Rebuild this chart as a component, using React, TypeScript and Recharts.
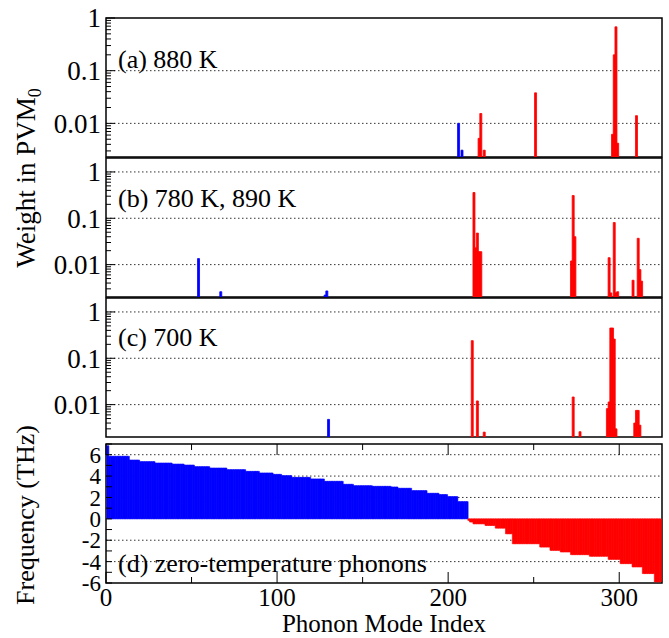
import React from "react";
import { BarChart, Bar, XAxis, YAxis, CartesianGrid, ReferenceArea, Cell } from "recharts";

const FONT = "Liberation Serif, Times New Roman, serif";
const BLUE = "#0000ff";
const RED = "#ff0000";
const W = 669;
const H = 638;
const PL = 106; // plot left
const PR = 662; // plot right

const MODE_COUNT = 324;

// zero-temperature phonon frequencies (THz), as runs of [modes in run, value]
const FREQ_STEPS: [number, number][] = [
  [1, 6.84], [12, 5.85], [6, 5.5], [9, 5.35], [10, 5.22], [7, 5.12], [6, 5.03],
  [9, 4.88], [10, 4.75], [11, 4.6], [8, 4.44], [8, 4.29], [5, 4.16], [6, 4.04],
  [11, 3.88], [8, 3.73], [11, 3.51], [6, 3.23], [11, 3.1], [11, 3.04], [4, 2.98],
  [8, 2.86], [9, 2.64], [7, 2.39], [5, 2.27], [6, 2.08], [6, 1.61],
  [1, -0.15], [2, -0.3], [7, -0.47], [6, -0.62], [6, -0.87], [4, -1.4], [16, -2.33],
  [6, -2.64], [6, -2.95], [6, -3.1], [11, -3.35], [11, -3.5], [7, -3.79], [7, -4.19],
  [6, -4.5], [7, -5.12], [4, -5.9],
];

// weight in PVM0, as [mode index, weight]
const W_880: [number, number][] = [
  [206, 0.01], [208, 0.0031], [218, 0.0052], [219, 0.0154], [221, 0.0031],
  [251, 0.038], [296, 0.0062], [297, 0.2], [298, 0.68], [299, 0.0042], [310, 0.014],
];
const W_780_890: [number, number][] = [
  [54, 0.0135], [67, 0.0026], [128, 0.0022], [129, 0.0027],
  [215, 0.36], [216, 0.023], [217, 0.048], [218, 0.019], [219, 0.019],
  [272, 0.012], [273, 0.31], [274, 0.04],
  [294, 0.0141], [295, 0.00245], [297, 0.081], [298, 0.00245], [299, 0.0026],
  [308, 0.0046], [311, 0.037], [312, 0.0078], [313, 0.0044],
];
const W_700: [number, number][] = [
  [130, 0.0048], [214, 0.24], [217, 0.012], [221, 0.00255],
  [273, 0.0146], [277, 0.0026],
  [293, 0.0082], [294, 0.0114], [295, 0.45], [296, 0.45], [297, 0.26], [298, 0.003],
  [309, 0.004], [310, 0.0075], [311, 0.0075], [312, 0.0036],
];

const X_TICKS = [0, 50, 100, 150, 200, 250, 300];
const LOG_TICKS = [
  0.003, 0.004, 0.005, 0.006, 0.007, 0.008, 0.009,
  0.01, 0.02, 0.03, 0.04, 0.05, 0.06, 0.07, 0.08, 0.09,
  0.1, 0.2, 0.3, 0.4, 0.5, 0.6, 0.7, 0.8, 0.9, 1,
];
const LOG_GRID_A = [0.01, 0.1];
const LOG_GRID_BC = [0.01, 0.1, 1];
const FREQ_TICKS = [-6, -5, -4, -3, -2, -1, 0, 1, 2, 3, 4, 5, 6, 7];
const FREQ_GRID = [-4, -2, 2, 4, 6];

const modes = Array.from({ length: MODE_COUNT }, (_, i) => i + 1);
const freqs: number[] = FREQ_STEPS.flatMap(([n, f]) => Array(n).fill(f));

const rowsFor = (w: [number, number][]) => {
  const m = new Map(w);
  return modes.map((mode, i) => ({ mode, freq: freqs[i], w: m.get(mode) ?? null }));
};
const freqRows = modes.map((mode, i) => ({ mode, freq: freqs[i] }));

const xTick = (top: number, bottom: number, label: boolean) => (p: any) => {
  const v = p.payload.value;
  const len = v % 100 === 0 ? 11 : 6;
  return (
    <g>
      <line x1={p.x} x2={p.x} y1={top} y2={top + len} stroke="#000" strokeWidth={1} />
      <line x1={p.x} x2={p.x} y1={bottom} y2={bottom - len} stroke="#000" strokeWidth={1} />
      {label && v % 100 === 0 && (
        <text x={p.x} y={bottom + 23} textAnchor="middle" fontSize={25} fontFamily={FONT} fill="#000">{v}</text>
      )}
    </g>
  );
};

const logTick = (p: any) => {
  const v = p.payload.value;
  const lg = Math.log10(v);
  const major = Math.abs(lg - Math.round(lg)) < 1e-6;
  return (
    <g>
      <line x1={PL} x2={PL + (major ? 9 : 5)} y1={p.y} y2={p.y} stroke="#000" strokeWidth={1} />
      {major && (
        <text x={PL - 5} y={p.y} dy="0.35em" textAnchor="end" fontSize={27} fontFamily={FONT} fill="#000">{v}</text>
      )}
    </g>
  );
};

const freqTick = (p: any) => {
  const v = p.payload.value;
  const even = v % 2 === 0;
  return (
    <g>
      <line x1={PL} x2={PL + 6} y1={p.y} y2={p.y} stroke="#000" strokeWidth={1} />
      {even && (
        <text x={PL - 5} y={p.y} dy="0.35em" textAnchor="end" fontSize={23} fontFamily={FONT} fill="#000">{v}</text>
      )}
    </g>
  );
};

interface WeightPanelProps {
  data: [number, number][];
  top: number;
  bottom: number;
  domain: [number, number];
  grid: number[];
}

const WeightPanel: React.FC<WeightPanelProps> = ({ data, top, bottom, domain, grid }) => {
  const rows = rowsFor(data);
  return (
    <div style={{ position: "absolute", left: 0, top: 0 }}>
      <BarChart width={W} height={bottom + 2} data={rows} margin={{ top, right: W - PR, bottom: 2, left: 0 }} barCategoryGap={0} barGap={0}>
        <CartesianGrid vertical={false} horizontalValues={grid} stroke="#333" strokeDasharray="1.5 2.5" />
        <XAxis dataKey="mode" type="number" domain={[0, 325]} ticks={X_TICKS} interval={0} height={0}
          allowDataOverflow axisLine={false} tickLine={false} tick={xTick(top, bottom, false)} />
        <YAxis type="number" scale="log" domain={domain} ticks={LOG_TICKS} interval={0} width={PL}
          allowDataOverflow axisLine={false} tickLine={false} tick={logTick} />
        <Bar dataKey="w" isAnimationActive={false}>
          {rows.map((r) => {
            const c = r.freq > 0 ? BLUE : RED;
            return <Cell key={r.mode} fill={c} stroke={c} strokeWidth={0.8} />;
          })}
        </Bar>
        <ReferenceArea x1={0} x2={325} y1={domain[0]} y2={domain[1]} fill="none" fillOpacity={0} stroke="#000" strokeWidth={1.5} />
      </BarChart>
    </div>
  );
};

const FreqPanel: React.FC = () => (
  <div style={{ position: "absolute", left: 0, top: 0 }}>
    <BarChart width={W} height={H} data={freqRows} margin={{ top: 444, right: W - PR, bottom: 0, left: 0 }} barCategoryGap={0} barGap={0}>
      <CartesianGrid vertical={false} horizontalValues={FREQ_GRID} stroke="#333" strokeDasharray="1.5 2.5" />
      <XAxis dataKey="mode" type="number" domain={[0, 325]} ticks={X_TICKS} interval={0} height={55}
        allowDataOverflow axisLine={false} tickLine={false} tick={xTick(444, 583, true)}
        label={{ value: "Phonon Mode Index", position: "insideBottom", offset: 6, fontSize: 25, fontFamily: FONT, fill: "#000" }} />
      <YAxis type="number" domain={[-6, 7]} ticks={FREQ_TICKS} interval={0} width={PL}
        allowDataOverflow axisLine={false} tickLine={false} tick={freqTick} />
      <Bar dataKey="freq" isAnimationActive={false}>
        {freqRows.map((r) => {
          const c = r.freq > 0 ? BLUE : RED;
          return <Cell key={r.mode} fill={c} stroke={c} strokeWidth={0.6} />;
        })}
      </Bar>
      <ReferenceArea x1={0} x2={325} y1={-6} y2={7} fill="none" fillOpacity={0} stroke="#000" strokeWidth={1.5} />
    </BarChart>
  </div>
);

const labelStyle = { fontSize: 26, fontFamily: FONT, fill: "#000" };

export default function App() {
  return (
    <div style={{ position: "absolute", left: 0, top: 0, width: W, height: H, background: "#fff" }}>
      <WeightPanel data={W_880} top={18} bottom={157} domain={[0.0023, 1]} grid={LOG_GRID_A} />
      <WeightPanel data={W_780_890} top={158} bottom={297} domain={[0.002, 2]} grid={LOG_GRID_BC} />
      <WeightPanel data={W_700} top={298} bottom={437} domain={[0.002, 2]} grid={LOG_GRID_BC} />
      <FreqPanel />
      <svg width={W} height={H} style={{ position: "absolute", left: 0, top: 0, pointerEvents: "none" }}>
        <text x={118} y={68} {...labelStyle}>(a) 880 K</text>
        <text x={118} y={207} {...labelStyle}>(b) 780 K, 890 K</text>
        <text x={118} y={346} {...labelStyle}>(c) 700 K</text>
        <text x={118} y={572} {...labelStyle}>(d) zero-temperature phonons</text>
        <text transform="translate(35, 178) rotate(-90)" textAnchor="middle" fontSize={27} fontFamily={FONT} fill="#000">
          Weight in PVM<tspan fontSize={18} dy={6}>0</tspan>
        </text>
        <text transform="translate(34, 515) rotate(-90)" textAnchor="middle" fontSize={26} fontFamily={FONT} fill="#000">
          Frequency (THz)
        </text>
      </svg>
    </div>
  );
}
